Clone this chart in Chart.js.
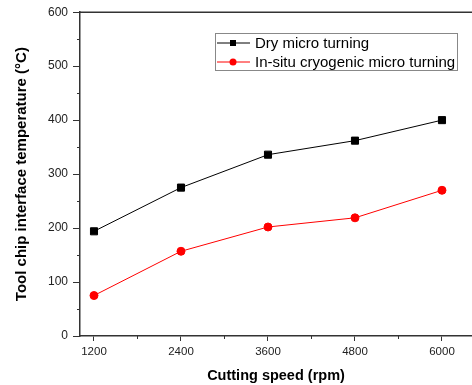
<!DOCTYPE html>
<html>
<head>
<meta charset="utf-8">
<script src="https://cdn.jsdelivr.net/npm/chart.js@4"></script>
<style>
  html, body { margin: 0; padding: 0; background: #fff; }
  #wrap { width: 472px; height: 385px; }
</style>
</head>
<body>
<div id="wrap"><canvas id="tempChart" width="472" height="385"></canvas></div>
<script>
const speeds = [1200, 2400, 3600, 4800, 6000];
const dryTemp = [194, 275, 336, 362, 400];
const cryoTemp = [75, 157, 202, 219, 270];
const seriesNames = ['Dry micro turning', 'In-situ cryogenic micro turning'];
const xTicks = [1200, 1800, 2400, 3000, 3600, 4200, 4800, 5400, 6000];

const FONT = "'Liberation Sans', Arial, sans-serif";
const axisColor = '#333';

// top frame line, short minor ticks and the boxed legend inside the plot
const boxLegend = {
  id: 'boxLegend',
  afterDraw(chart) {
    const ctx = chart.ctx;
    const a = chart.chartArea;
    const xs = chart.scales.x, ys = chart.scales.y;
    ctx.save();
    ctx.strokeStyle = axisColor;
    ctx.lineWidth = 1.5;
    ctx.beginPath();
    ctx.moveTo(a.left, a.top);
    ctx.lineTo(a.right, a.top);
    ctx.stroke();

    // minor ticks
    ctx.lineWidth = 1;
    ctx.beginPath();
    xTicks.filter(v => v % 1200 !== 0).forEach(v => {
      const px = Math.round(xs.getPixelForValue(v)) + 0.5;
      ctx.moveTo(px, a.bottom);
      ctx.lineTo(px, a.bottom + 3);
    });
    for (let v = 50; v < 600; v += 100) {
      const py = Math.round(ys.getPixelForValue(v)) + 0.5;
      ctx.moveTo(a.left, py);
      ctx.lineTo(a.left - 3, py);
    }
    ctx.stroke();

    ctx.strokeStyle = '#888';
    ctx.lineWidth = 1;
    ctx.strokeRect(215.5, 33.5, 242, 37);

    ctx.font = '15px ' + FONT;
    ctx.textBaseline = 'middle';
    chart.data.datasets.forEach((ds, i) => {
      const y = 43 + i * 19;
      ctx.strokeStyle = ds.borderColor;
      ctx.lineWidth = 1;
      ctx.beginPath();
      ctx.moveTo(217, y);
      ctx.lineTo(250, y);
      ctx.stroke();
      ctx.fillStyle = ds.pointBackgroundColor;
      if (ds.pointStyle === 'rect') {
        ctx.fillRect(230, y - 3, 6, 6);
      } else {
        ctx.beginPath();
        ctx.arc(233, y, 3.5, 0, Math.PI * 2);
        ctx.fill();
      }
      ctx.fillStyle = '#000';
      ctx.fillText(ds.label, 255, y + 1);
    });
    ctx.restore();
  }
};

new Chart(document.getElementById('tempChart').getContext('2d'), {
  type: 'line',
  data: {
    datasets: [
      {
        label: seriesNames[0],
        data: speeds.map((s, i) => ({ x: s, y: dryTemp[i] })),
        borderColor: '#000',
        backgroundColor: '#000',
        pointBackgroundColor: '#000',
        pointBorderColor: '#000',
        pointStyle: 'rect',
        pointRadius: 5,
        borderWidth: 1,
        tension: 0
      },
      {
        label: seriesNames[1],
        data: speeds.map((s, i) => ({ x: s, y: cryoTemp[i] })),
        borderColor: '#ff0000',
        backgroundColor: '#ff0000',
        pointBackgroundColor: '#ff0000',
        pointBorderColor: '#ff0000',
        pointStyle: 'circle',
        pointRadius: 4,
        borderWidth: 1,
        tension: 0
      }
    ]
  },
  options: {
    responsive: false,
    animation: false,
    layout: { autoPadding: false, padding: { top: 12, right: 0, left: 0, bottom: 0 } },
    plugins: { legend: { display: false }, tooltip: { enabled: false } },
    scales: {
      x: {
        type: 'linear',
        min: 1007,
        max: 6414,
        afterBuildTicks: s => { s.ticks = xTicks.map(v => ({ value: v })); },
        afterFit: s => { s.height = 49; s.paddingLeft = 0; s.paddingRight = 0; },
        grid: {
          drawOnChartArea: false,
          tickLength: 5,
          tickWidth: 1,
          tickColor: c => (c.tick && c.tick.value % 1200 === 0 ? axisColor : 'rgba(0,0,0,0)')
        },
        border: { color: axisColor, width: 1.5 },
        ticks: {
          padding: 4,
          maxRotation: 0,
          autoSkip: false,
          color: '#222',
          font: { family: FONT, size: 11.5 },
          callback: v => (v % 1200 === 0 ? String(v) : '')
        },
        title: {
          display: true,
          text: 'Cutting speed (rpm)',
          color: '#000',
          padding: { top: 0, bottom: 0 },
          font: { family: FONT, size: 14.5, weight: 'bold' }
        }
      },
      y: {
        min: 0,
        max: 600,
        afterFit: s => { s.width = 80; },
        grid: {
          drawOnChartArea: false,
          tickLength: 7,
          tickWidth: 1,
          tickColor: c => (c.tick && c.tick.value % 100 === 0 ? axisColor : 'rgba(0,0,0,0)')
        },
        border: { color: axisColor, width: 1.5 },
        ticks: {
          stepSize: 50,
          padding: 5,
          autoSkip: false,
          color: '#222',
          font: { family: FONT, size: 12 },
          callback: v => (v % 100 === 0 ? String(v) : '')
        },
        title: {
          display: true,
          text: 'Tool chip interface temperature (\u00B0C)',
          color: '#000',
          padding: { top: 13, bottom: 0 },
          font: { family: FONT, size: 15, weight: 'bold' }
        }
      }
    }
  },
  plugins: [boxLegend]
});
</script>
</body>
</html>
